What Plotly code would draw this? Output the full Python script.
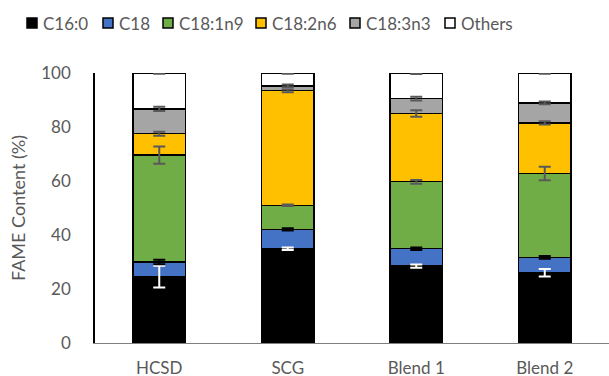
import plotly.graph_objects as go

categories = ["HCSD", "SCG", "Blend 1", "Blend 2"]
series_names = ["C16:0", "C18", "C18:1n9", "C18:2n6", "C18:3n3", "Others"]

c16_0 = [24.6, 34.9, 28.5, 26.0]
c18 = [5.4, 7.2, 6.4, 5.7]
c18_1n9 = [39.6, 8.9, 24.8, 31.1]
c18_2n6 = [7.9, 42.4, 25.3, 18.7]
c18_3n3 = [9.2, 1.8, 5.5, 7.4]
others = [13.3, 4.8, 9.5, 11.1]

err_c16_0 = [4.0, 0.5, 0.6, 1.4]
err_c18 = [0.8, 0.4, 0.5, 0.5]
err_c18_1n9 = [3.2, 0.3, 0.7, 2.5]
err_c18_2n6 = [0.7, 0.5, 1.2, 0.6]
err_c18_3n3 = [0.8, 0.5, 0.7, 0.5]
err_others = [0.3, 0.3, 0.4, 0.3]

values = [c16_0, c18, c18_1n9, c18_2n6, c18_3n3, others]
errors = [err_c16_0, err_c18, err_c18_1n9, err_c18_2n6, err_c18_3n3, err_others]

# styles
fill_colors = ["#000000", "#4472C4", "#70AD47", "#FFC000", "#A5A5A5", "#FFFFFF"]
err_colors = ["#FFFFFF", "#000000", "#595959", "#595959", "#595959", "#595959"]
FONT = "Lato"
TXT = "#595959"

# layout geometry (pixels)
W, H = 609, 376
ML, MR, MT, MB = 95, 0, 73, 33
PW, PH = W - ML - MR, H - MT - MB
legend_left_px = [27, 103, 163, 256, 350, 445]
legend_top_px, legend_sq = 18, 10


def px_x(p):
    return (p - ML) / PW


def px_y(p):
    return (H - MB - p) / PH


fig = go.Figure()
for name, vals, fc in zip(series_names, values, fill_colors):
    fig.add_trace(go.Bar(
        name=name, x=categories, y=vals,
        marker=dict(color=fc, line=dict(color="#000000", width=1.2)),
        showlegend=False,
    ))

# error bars at the top of each stacked segment, drawn above all bars
cum = [0.0] * len(categories)
for name, vals, errs, ec in zip(series_names, values, errors, err_colors):
    cum = [c + v for c, v in zip(cum, vals)]
    fig.add_trace(go.Scatter(
        x=categories, y=cum, mode="markers", name=name + " error",
        marker=dict(size=1, opacity=0),
        error_y=dict(type="data", array=errs, visible=True, color=ec, thickness=2, width=6),
        showlegend=False, hoverinfo="skip",
    ))

# legend drawn as swatches + labels
for name, fc, lx in zip(series_names, fill_colors, legend_left_px):
    fig.add_shape(
        type="rect", xref="paper", yref="paper",
        x0=px_x(lx), x1=px_x(lx + legend_sq),
        y0=px_y(legend_top_px + legend_sq), y1=px_y(legend_top_px),
        fillcolor=fc, line=dict(color="#000000", width=1.5),
    )
    fig.add_annotation(
        x=px_x(lx + legend_sq + 4), y=px_y(legend_top_px + legend_sq / 2),
        xref="paper", yref="paper", text=name, showarrow=False,
        xanchor="left", yanchor="middle",
        font=dict(family=FONT, size=17, color=TXT),
    )

fig.update_layout(
    width=W, height=H,
    barmode="stack", bargap=0.59,
    plot_bgcolor="white", paper_bgcolor="white",
    margin=dict(l=ML, r=MR, t=MT, b=MB, autoexpand=False),
    font=dict(family=FONT, size=17, color=TXT),
    showlegend=False,
    xaxis=dict(
        showline=True, linecolor="#808080", linewidth=1.2, automargin=False,
        showgrid=False, ticks="", ticklabelstandoff=9,
        tickfont=dict(family=FONT, size=17, color=TXT),
    ),
    yaxis=dict(
        range=[0, 100], dtick=20, showline=True, linecolor="#000000", linewidth=1.5,
        showgrid=False, zeroline=False, ticks="", ticklabelstandoff=19, automargin=False,
        tickfont=dict(family=FONT, size=17, color=TXT),
        title=dict(text="FAME Content (%)", font=dict(family=FONT, size=18, color=TXT), standoff=11),
    ),
)

fig.write_html("out.html", config={"displayModeBar": False},
               post_script="document.body.style.margin='0';")
